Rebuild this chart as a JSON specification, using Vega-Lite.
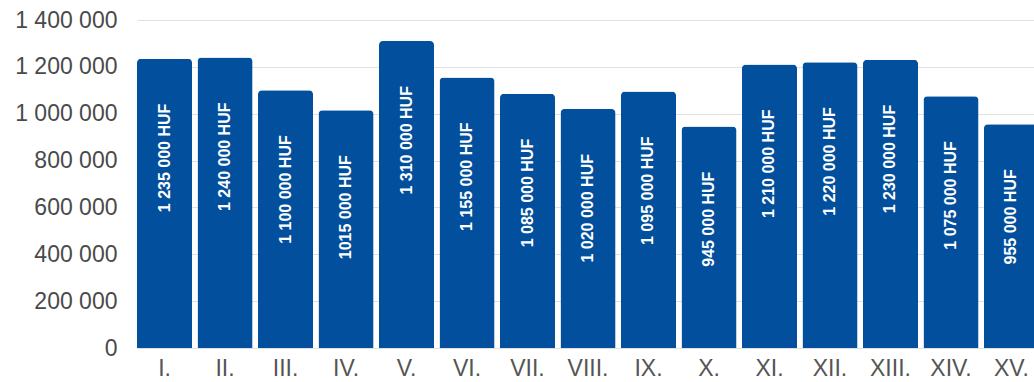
{
  "$schema": "https://vega.github.io/schema/vega-lite/v6.json",
  "width": 897,
  "height": 328,
  "autosize": {"type": "none"},
  "padding": {"left": 137, "top": 20, "right": 0, "bottom": 34},
  "config": {
    "view": {"stroke": null},
    "locale": {"number": {"decimal": ",", "thousands": " ", "grouping": [3], "currency": ["", ""]}},
    "font": "Liberation Sans"
  },
  "data": {
    "values": [
      {"period": "I.", "amount": 1235000, "label": "1 235 000 HUF"},
      {"period": "II.", "amount": 1240000, "label": "1 240 000 HUF"},
      {"period": "III.", "amount": 1100000, "label": "1 100 000 HUF"},
      {"period": "IV.", "amount": 1015000, "label": "1015 000 HUF"},
      {"period": "V.", "amount": 1310000, "label": "1 310 000 HUF"},
      {"period": "VI.", "amount": 1155000, "label": "1 155 000 HUF"},
      {"period": "VII.", "amount": 1085000, "label": "1 085 000 HUF"},
      {"period": "VIII.", "amount": 1020000, "label": "1 020 000 HUF"},
      {"period": "IX.", "amount": 1095000, "label": "1 095 000 HUF"},
      {"period": "X.", "amount": 945000, "label": "945 000 HUF"},
      {"period": "XI.", "amount": 1210000, "label": "1 210 000 HUF"},
      {"period": "XII.", "amount": 1220000, "label": "1 220 000 HUF"},
      {"period": "XIII.", "amount": 1230000, "label": "1 230 000 HUF"},
      {"period": "XIV.", "amount": 1075000, "label": "1 075 000 HUF"},
      {"period": "XV.", "amount": 955000, "label": "955 000 HUF"}
    ]
  },
  "encoding": {
    "x": {
      "field": "period",
      "type": "nominal",
      "sort": null,
      "scale": {"range": [0, 902], "paddingInner": 0.09, "paddingOuter": 0},
      "axis": {
        "title": null,
        "labelAngle": 0,
        "ticks": false,
        "domain": false,
        "labelFontSize": 23,
        "labelColor": "#555555",
        "labelPadding": 9,
        "labelFont": "Liberation Sans"
      }
    },
    "y": {
      "field": "amount",
      "type": "quantitative",
      "scale": {"domain": [0, 1400000], "nice": false},
      "axis": {
        "title": null,
        "values": [0, 200000, 400000, 600000, 800000, 1000000, 1200000, 1400000],
        "format": ",d",
        "ticks": false,
        "domain": false,
        "labelFontSize": 23,
        "labelColor": "#4a4a4a",
        "labelPadding": 20,
        "gridColor": "#e0e0e0",
        "gridWidth": 1,
        "labelFont": "Liberation Sans"
      }
    }
  },
  "layer": [
    {
      "mark": {"type": "bar", "color": "#02509d", "cornerRadiusTopLeft": 4, "cornerRadiusTopRight": 4}
    },
    {
      "mark": {
        "type": "text",
        "angle": 270,
        "align": "right",
        "baseline": "middle",
        "dx": -45,
        "color": "white",
        "fontWeight": "bold",
        "fontSize": 16,
        "font": "Liberation Sans"
      },
      "encoding": {"text": {"field": "label"}}
    }
  ]
}
